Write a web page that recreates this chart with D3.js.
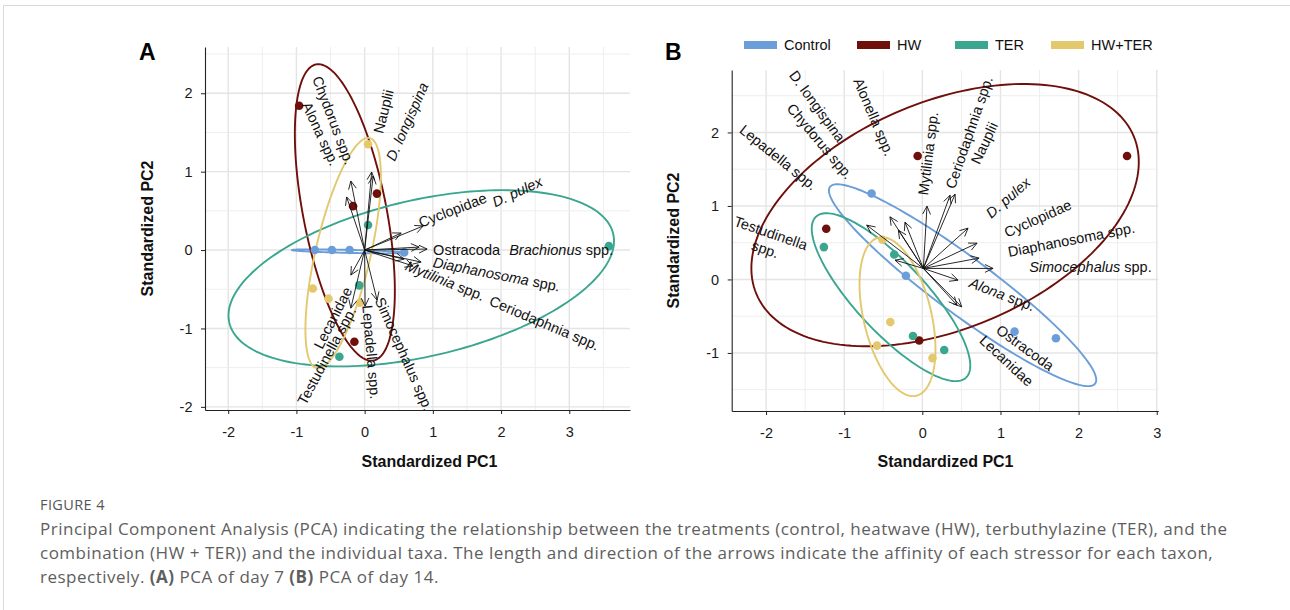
<!DOCTYPE html>
<html>
<head>
<meta charset="utf-8">
<script src="https://cdn.jsdelivr.net/npm/d3@7"></script>
<style>
body { margin: 0; background: #fff; }
svg text { font-family: "Liberation Sans", Arial, Helvetica, sans-serif; }
.cap { font-family: "Open Sans", "Noto Sans", sans-serif !important; fill: #5e5e5e; }
</style>
</head>
<body>
<svg id="fig" width="1290" height="610"></svg>
<script>
var groups = ['Control', 'HW', 'TER', 'HW+TER'];
var colors = ['#6B9ED8', '#6E0F0B', '#3AA68F', '#E3C86E'];

// day 7 (A) sample scores
var a_grp = [0,0,0,0, 1,1,1,1, 2,2,2,2, 3,3,3,3];
var a_pc1 = [-0.73,-0.48,-0.22,0.58, -0.96,-0.17,0.18,-0.15, 0.05,-0.08,-0.37,3.58, 0.05,-0.76,-0.53,-0.07];
var a_pc2 = [0.00,0.00,0.00,-0.03, 1.84,0.56,0.72,-1.17, 0.32,-0.45,-1.36,0.05, 1.35,-0.49,-0.62,-0.67];

// day 14 (B) sample scores
var b_grp = [0,0,0,0, 1,1,1,1, 2,2,2,2, 3,3,3,3];
var b_pc1 = [-0.65,-0.21,1.18,1.71, -0.06,2.62,-1.23,-0.04, -1.26,-0.36,-0.12,0.28, -0.51,-0.41,-0.58,0.13];
var b_pc2 = [1.17,0.05,-0.71,-0.80, 1.68,1.68,0.69,-0.83, 0.44,0.34,-0.77,-0.96, 0.54,-0.58,-0.90,-1.07];

// group ellipses: centre and two semi-axis vectors (data units)
var a_ecx = [-0.224,-0.29,0.83,-0.315], a_ecy = [-0.017,0.48,-0.36,-0.038];
var a_eux = [0.843,-0.421,2.814,0.389], a_euy = [-0.017,1.888,0.566,1.467];
var a_evx = [0.0,0.600,0.257,0.393], a_evy = [-0.019,0.102,-0.971,-0.079];

var b_ecx = [0.515,0.291,-0.401,-0.318], b_ecy = [-0.078,0.875,-0.241,-0.506];
var b_eux = [1.697,2.415,0.960,-0.241], b_euy = [-1.338,1.073,-1.095,1.076];
var b_evx = [-0.216,0.561,-0.328,0.422], b_evy = [-0.309,-1.426,-0.325,0.107];

// taxa loadings (arrows) and label placement, day 7
var a_taxa = ['Chydorus spp.','Alona spp.','Nauplii','D. longispina','Cyclopidae','D. pulex','Ostracoda','Brachionus spp.',
  'Diaphanosoma spp.','Mytilinia spp.','Ceriodaphnia spp.','Simocephalus spp.','Lepadella spp.','Lecanidae','Testudinella spp.'];
var a_ldx = [-0.264,-0.202,0.103,0.125,0.858,0.535,0.916,0.799,0.828,0.579,0.711,0.183,0.007,-0.202,-0.202];
var a_ldy = [0.677,0.881,0.996,0.945,0.307,0.217,0.013,0.038,-0.153,-0.115,-0.204,-0.639,-0.715,-0.319,-0.741];
var a_lbx = [-0.213,-0.433,0.198,0.374,0.799,1.884,1.004,2.119,1.004,0.608,1.840,0.213,0.037,-0.242,-0.183];
var a_lby = [1.098,1.086,1.494,1.149,0.345,0.600,0,0,-0.153,-0.192,-0.639,-0.613,-0.702,-0.485,-0.741];
var a_lba = [-69,-65,76,66,21,25,0,0,-11,-22,-23,-66,-85,63,62];
var a_ital = ['Brachionus spp.','D. pulex','D. longispina','Diaphanosoma spp.','Mytilinia spp.'];
var a_orig = [0, 0];

// day 14
var b_taxa = ['Lepadella spp.','Chydorus spp.','D. longispina','Alonella spp.','Mytilinia spp.','Ceriodaphnia spp.','Nauplii',
  'D. pulex','Cyclopidae','Diaphanosoma spp.','Simocephalus spp.','Alona spp.','Ostracoda','Lecanidae','Testudinella\nspp.'];
var b_ldx = [-0.712,-0.414,-0.307,-0.222,0.060,0.355,0.419,0.585,0.700,0.726,0.905,0.457,0.504,0.444,-0.350];
var b_ldy = [0.739,0.852,0.671,0.780,0.997,1.146,1.160,0.698,0.494,0.290,0.150,-0.010,-0.373,-0.350,0.263];
var b_lbx = [-1.374,-0.926,-1.032,-0.414,0.009,0.355,0.675,0.841,1.059,1.097,1.367,0.611,0.969,0.764,-1.976];
var b_lby = [1.256,1.392,1.895,1.691,1.147,1.242,1.582,0.875,0.630,0.371,0.163,-0.037,-0.663,-0.797,0.521];
var b_lba = [-39,-50,-54,-67,83,71,65,41,24,11,0,-21,-36,-43,-19];
var b_ital = ['Simocephalus spp.','Alona spp.','D. pulex'];
var b_orig = [0.013, 0.15];

var pcTicks = [-2,-1,0,1,2,3];

var svg = d3.select('#fig');
svg.append('rect').attr('x',3.5).attr('y',5.5).attr('width',1300).attr('height',700)
  .style('fill','#fff').style('stroke','#d9d9d9');

function drawPanel(p) {
  var x = d3.scaleLinear().domain(p.xd).range(p.xr);
  var y = d3.scaleLinear().domain(p.yd).range(p.yr);
  var g = svg.append('g');

  var gxv = d3.range(Math.ceil(p.xd[0]*2), Math.floor(p.xd[1]*2)+1).map(function(d){ return d/2; });
  var gyv = d3.range(Math.ceil(p.yd[0]*2), Math.floor(p.yd[1]*2)+1).map(function(d){ return d/2; });
  var grid = g.append('g');
  grid.selectAll('.vx').data(gxv).enter().append('line')
    .attr('x1', function(d){ return x(d); }).attr('x2', function(d){ return x(d); })
    .attr('y1', p.yr[0]).attr('y2', p.yr[1])
    .style('stroke', function(d){ return d % 1 === 0 ? '#e4e4e4' : '#eeeeee'; })
    .style('stroke-width', function(d){ return d % 1 === 0 ? 1.4 : 1; });
  grid.selectAll('.hy').data(gyv).enter().append('line')
    .attr('y1', function(d){ return y(d); }).attr('y2', function(d){ return y(d); })
    .attr('x1', p.xr[0]).attr('x2', p.xr[1])
    .style('stroke', function(d){ return d % 1 === 0 ? '#e4e4e4' : '#eeeeee'; })
    .style('stroke-width', function(d){ return d % 1 === 0 ? 1.4 : 1; });

  // ellipses
  var line = d3.line().x(function(d){ return x(d[0]); }).y(function(d){ return y(d[1]); }).curve(d3.curveLinearClosed);
  var ts = d3.range(0, 180).map(function(i){ return i * Math.PI / 90; });
  groups.forEach(function(gn, i) {
    var pts = ts.map(function(t){
      return [p.ecx[i] + p.eux[i]*Math.cos(t) + p.evx[i]*Math.sin(t),
              p.ecy[i] + p.euy[i]*Math.cos(t) + p.evy[i]*Math.sin(t)];
    });
    g.append('path').attr('d', line(pts))
      .style('fill','none').style('stroke', colors[i]).style('stroke-width', 1.9);
  });

  // points
  g.append('g').selectAll('circle').data(p.pc1).enter().append('circle')
    .attr('cx', function(d){ return x(d); })
    .attr('cy', function(d,i){ return y(p.pc2[i]); })
    .attr('r', 4.3)
    .style('fill', function(d,i){ return colors[p.grp[i]]; });

  // arrows
  var ox = x(p.orig[0]), oy = y(p.orig[1]);
  g.append('g').selectAll('path').data(p.ldx).enter().append('path')
    .attr('d', function(d,i){
      var tx = x(d), ty = y(p.ldy[i]);
      var ang = Math.atan2(ty-oy, tx-ox), L = 9, w = 0.45;
      var h1 = [tx - L*Math.cos(ang-w), ty - L*Math.sin(ang-w)];
      var h2 = [tx - L*Math.cos(ang+w), ty - L*Math.sin(ang+w)];
      return 'M'+ox+','+oy+'L'+tx+','+ty+'M'+h1[0]+','+h1[1]+'L'+tx+','+ty+'L'+h2[0]+','+h2[1];
    })
    .style('fill','none').style('stroke','#111').style('stroke-width',0.9);

  // taxa labels
  p.taxa.forEach(function(name, i) {
    var lines = name.split('\n');
    var anchor = lines.length > 1 ? 'middle' : (p.ldx[i] - p.orig[0] >= 0 ? 'start' : 'end');
    var t = g.append('text')
      .attr('transform', 'translate(' + x(p.lbx[i]) + ',' + y(p.lby[i]) + ') rotate(' + (-p.lba[i]) + ')')
      .attr('text-anchor', anchor)
      .attr('dominant-baseline', 'central')
      .style('font-size', '14.5px').style('fill', '#111');
    lines.forEach(function(ln, j) {
      var dy = lines.length > 1 ? (j === 0 ? -8.5 : 17) : 0;
      var italic = p.ital.indexOf(name) >= 0;
      if (italic && /\sspp\.$/.test(ln)) {
        t.append('tspan').attr('x', 0).attr('dy', dy).style('font-style','italic').text(ln.replace(/\sspp\.$/, ''));
        t.append('tspan').text(' spp.');
      } else {
        t.append('tspan').attr('x', 0).attr('dy', dy).style('font-style', italic ? 'italic' : 'normal').text(ln);
      }
    });
  });

  // axes
  var xAxis = d3.axisBottom(x).tickValues(pcTicks).tickSize(4).tickSizeOuter(0).tickPadding(13)
    .tickFormat(function(d){ return String(d); });
  var yAxis = d3.axisLeft(y).tickValues(p.yt).tickSize(4).tickSizeOuter(0).tickPadding(8.5)
    .tickFormat(function(d){ return String(d); });
  var ax = g.append('g').attr('transform', 'translate(0,' + p.yr[0] + ')').call(xAxis);
  var ay = g.append('g').attr('transform', 'translate(' + p.xr[0] + ',0)').call(yAxis);
  [ax, ay].forEach(function(a) {
    a.select('.domain').style('stroke', '#222').style('stroke-width', 1.1);
    a.selectAll('.tick line').style('stroke', '#222');
    a.selectAll('.tick text').style('font-size', '14.5px').style('fill', '#1a1a1a')
      .style('font-family', '"Liberation Sans", Arial, sans-serif');
  });

  g.append('text').attr('x', p.xtx).attr('y', 467).attr('text-anchor', 'middle')
    .style('font-size', '16px').style('font-weight', 'bold').style('fill', '#111').text('Standardized PC1');
  g.append('text').attr('transform', 'translate(' + p.ytx + ',' + ((p.yr[0] + p.yr[1]) / 2) + ') rotate(-90)')
    .attr('text-anchor', 'middle')
    .style('font-size', '16px').style('font-weight', 'bold').style('fill', '#111').text('Standardized PC2');
  g.append('text').attr('x', p.lx).attr('y', 60)
    .style('font-size', '23px').style('font-weight', 'bold').style('fill', '#000').text(p.letter);
}

drawPanel({
  xd: [-2.34, 3.89], xr: [205, 630], yd: [-2.04, 2.59], yr: [410, 47], yt: [-2,-1,0,1,2],
  grp: a_grp, pc1: a_pc1, pc2: a_pc2,
  ecx: a_ecx, ecy: a_ecy, eux: a_eux, euy: a_euy, evx: a_evx, evy: a_evy,
  taxa: a_taxa, ldx: a_ldx, ldy: a_ldy, lbx: a_lbx, lby: a_lby, lba: a_lba, ital: a_ital, orig: a_orig,
  xtx: 429.5, ytx: 152.5, lx: 139, letter: 'A'
});

drawPanel({
  xd: [-2.44, 3.02], xr: [731.7, 1158.3], yd: [-1.79, 2.85], yr: [411, 70], yt: [-1,0,1,2],
  grp: b_grp, pc1: b_pc1, pc2: b_pc2,
  ecx: b_ecx, ecy: b_ecy, eux: b_eux, euy: b_euy, evx: b_evx, evy: b_evy,
  taxa: b_taxa, ldx: b_ldx, ldy: b_ldy, lbx: b_lbx, lby: b_lby, lba: b_lba, ital: b_ital, orig: b_orig,
  xtx: 945.5, ytx: 678.5, lx: 665, letter: 'B'
});

// legend
var legX = [744, 857, 955, 1051];
var leg = svg.append('g').selectAll('g').data(groups).enter().append('g')
  .attr('transform', function(d,i){ return 'translate(' + legX[i] + ',45)'; });
leg.append('rect').attr('x', 0).attr('y', -4).attr('width', 33).attr('height', 8)
  .style('fill', function(d,i){ return colors[i]; });
leg.append('text').attr('x', 40).attr('y', 5).style('font-size', '14.5px').style('fill', '#111')
  .text(function(d){ return d; });

// caption
var capLines = [
  'Principal Component Analysis (PCA) indicating the relationship between the treatments (control, heatwave (HW), terbuthylazine (TER), and the',
  'combination (HW + TER)) and the individual taxa. The length and direction of the arrows indicate the affinity of each stressor for each taxon,'
];
svg.append('text').attr('class','cap').attr('x', 40).attr('y', 510)
  .style('font-size', '14.5px').style('letter-spacing', '0.4px').style('fill', '#555').text('FIGURE 4');
capLines.forEach(function(s, i) {
  svg.append('text').attr('class','cap').attr('x', 40).attr('y', 535 + i*24)
    .style('font-size', '17px').style('letter-spacing', '0.5px').text(s);
});
var l3 = svg.append('text').attr('class','cap').attr('x', 40).attr('y', 583)
  .style('font-size', '17px').style('letter-spacing', '0.5px');
l3.append('tspan').text('respectively. ');
l3.append('tspan').style('font-weight','bold').text('(A)');
l3.append('tspan').text(' PCA of day 7 ');
l3.append('tspan').style('font-weight','bold').text('(B)');
l3.append('tspan').text(' PCA of day 14.');
</script>
</body>
</html>
